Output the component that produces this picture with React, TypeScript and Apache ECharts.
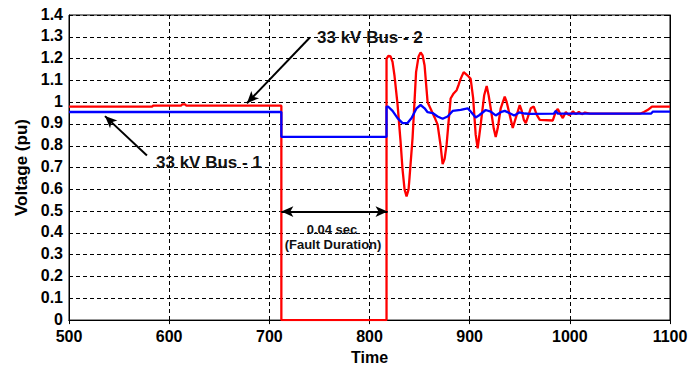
import React, { useEffect, useRef } from "react";
import * as echarts from "echarts";

// Time axis ticks and voltage ticks
const timeTicks = [500, 600, 700, 800, 900, 1000, 1100];
const voltTicks = [0, 0.1, 0.2, 0.3, 0.4, 0.5, 0.6, 0.7, 0.8, 0.9, 1, 1.1, 1.2, 1.3, 1.4];

// 33 kV Bus - 2 (red)
const bus2Time = [
  500, 583, 584, 612, 613, 616, 617, 712, 712, 817, 817, 819, 821, 823, 825, 828, 831, 833, 835, 837,
  839, 840, 843, 846.5, 849, 851, 853, 855, 858, 861, 865, 868, 871, 873, 875, 877, 879, 881, 884, 887,
  889, 891, 894, 896, 898, 901, 903.5, 906, 908, 911, 914.5, 917, 919, 921, 924, 926, 928, 931, 935, 937,
  939.5, 943, 946, 950, 952, 954, 956, 958, 961, 964, 967, 970, 983, 986, 988, 990, 993, 996, 998, 1000,
  1003, 1006, 1009, 1012, 1015, 1020, 1070, 1074, 1078, 1082, 1100,
];
const bus2Volt = [
  0.98, 0.98, 0.984, 0.984, 0.99, 0.99, 0.984, 0.984, 0, 0, 1.2, 1.213, 1.21, 1.185, 1.12, 0.99, 0.82, 0.69, 0.6, 0.568,
  0.6, 0.656, 0.836, 1.138, 1.21, 1.228, 1.215, 1.168, 1.0, 0.97, 0.93, 0.897, 0.8, 0.716, 0.74, 0.806, 0.912, 1.017, 1.04, 1.055,
  1.08, 1.107, 1.138, 1.13, 1.122, 1.107, 1.017, 0.851, 0.788, 0.897, 1.032, 1.074, 1.03, 0.972, 0.88, 0.84, 0.88, 0.972, 1.025, 1.0,
  0.95, 0.882, 0.927, 0.987, 0.96, 0.92, 0.904, 0.93, 0.972, 0.98, 0.942, 0.919, 0.916, 0.957, 0.969, 0.95, 0.927, 0.955, 0.945, 0.94,
  0.958, 0.945, 0.955, 0.945, 0.952, 0.947, 0.947, 0.955, 0.965, 0.98, 0.98,
];

// 33 kV Bus - 1 (blue)
const bus1Time = [
  500, 712, 712, 817, 817, 818.5, 823, 828, 833, 838, 842, 847, 851, 855, 858, 863, 868, 873, 878, 883,
  891, 898, 901, 906, 909.5, 916, 921, 926, 931, 935, 939.5, 944.5, 949.5, 955, 960, 984, 986, 988, 1081, 1083,
  1100,
];
const bus1Volt = [
  0.955, 0.955, 0.841, 0.841, 0.98, 0.98, 0.96, 0.927, 0.904, 0.904, 0.927, 0.972, 0.987, 0.972, 0.954, 0.95, 0.934, 0.924, 0.934, 0.96,
  0.965, 0.972, 0.957, 0.93, 0.94, 0.964, 0.957, 0.939, 0.954, 0.96, 0.95, 0.939, 0.953, 0.948, 0.946, 0.947, 0.96, 0.947, 0.947, 0.957,
  0.957,
];

// Fault window (start / end of the outage)
const faultStart = 712;
const faultEnd = 818;

const FONT = 'Arial, "Liberation Sans", sans-serif';

const zip = (xs: number[], ys: number[]) => xs.map((x, i) => [x, ys[i]]);

export default function App() {
  const ref = useRef<HTMLDivElement>(null);

  useEffect(() => {
    if (!ref.current) return;
    const chart = echarts.init(ref.current, undefined, { renderer: "svg" });

    const tickFmt = (v: number) => String(Math.round(v * 10) / 10);
    const gridLine = { show: true, lineStyle: { color: "#000", width: 1, type: [4, 3] as number[] } };

    chart.setOption({
      animation: false,
      backgroundColor: "#fff",
      grid: { left: 69, right: 22, top: 15, bottom: 45, show: true, borderColor: "#000", borderWidth: 1 },
      xAxis: [
        {
          type: "value",
          min: timeTicks[0],
          max: timeTicks[timeTicks.length - 1],
          interval: 100,
          name: "Time",
          nameLocation: "middle",
          nameGap: 25,
          nameTextStyle: { fontFamily: FONT, fontWeight: "bold", fontSize: 16, color: "#000" },
          axisLine: { show: true, lineStyle: { color: "#000", width: 1 } },
          axisTick: { show: true, inside: true, length: 4, lineStyle: { color: "#000" } },
          axisLabel: { fontFamily: FONT, fontWeight: "bold", fontSize: 16, color: "#000", margin: 8, formatter: tickFmt },
          splitLine: gridLine,
        },
        {
          type: "value",
          position: "top",
          min: timeTicks[0],
          max: timeTicks[timeTicks.length - 1],
          interval: 100,
          axisLine: { show: true, lineStyle: { color: "#000" } },
          axisTick: { show: true, inside: true, length: 4, lineStyle: { color: "#000" } },
          axisLabel: { show: false },
          splitLine: { show: false },
        },
      ],
      yAxis: [
        {
          type: "value",
          min: voltTicks[0],
          max: voltTicks[voltTicks.length - 1],
          interval: 0.1,
          name: "Voltage (pu)",
          nameLocation: "middle",
          nameRotate: 90,
          nameGap: 39,
          nameTextStyle: { fontFamily: FONT, fontWeight: "bold", fontSize: 17, color: "#000" },
          axisLine: { show: true, lineStyle: { color: "#000", width: 1 } },
          axisTick: { show: true, inside: true, length: 4, lineStyle: { color: "#000" } },
          axisLabel: {
            fontFamily: FONT,
            fontWeight: "bold",
            fontSize: 16,
            color: "#000",
            margin: 6,
            formatter: tickFmt,
            verticalAlign: "bottom",
            padding: [0, 0, -7, 0],
          },
          splitLine: gridLine,
        },
        {
          type: "value",
          position: "right",
          min: voltTicks[0],
          max: voltTicks[voltTicks.length - 1],
          interval: 0.1,
          axisLine: { show: true, lineStyle: { color: "#000" } },
          axisTick: { show: true, inside: true, length: 4, lineStyle: { color: "#000" } },
          axisLabel: { show: false },
          splitLine: { show: false },
        },
      ],
      series: [
        {
          name: "33 kV Bus - 2",
          type: "line",
          data: zip(bus2Time, bus2Volt),
          showSymbol: false,
          symbol: "none",
          lineStyle: { color: "#ff0000", width: 2.3 },
          z: 2,
        },
        {
          name: "33 kV Bus - 1",
          type: "line",
          data: zip(bus1Time, bus1Volt),
          showSymbol: false,
          symbol: "none",
          lineStyle: { color: "#0000ff", width: 2.3 },
          z: 3,
          markLine: {
            silent: true,
            symbol: ["none", "arrow"],
            symbolSize: [8, 12],
            label: { show: false },
            lineStyle: { color: "#000", width: 2, type: "solid" },
            data: [
              [{ coord: [740.5, 1.297] }, { coord: [677.6, 0.995] }],
              [{ coord: [577.8, 0.755] }, { coord: [535.9, 0.936] }],
              [
                { coord: [faultStart, 0.498], symbol: "arrow" },
                { coord: [faultEnd, 0.498] },
              ],
            ],
          },
        },
      ],
      graphic: [
        {
          type: "text",
          x: 317,
          y: 37,
          style: { text: "33 kV Bus - 2", font: `bold 17px ${FONT}`, fill: "#111", textAlign: "left", textVerticalAlign: "middle" },
          z: 10,
        },
        {
          type: "text",
          x: 156,
          y: 162,
          style: { text: "33 kV Bus - 1", font: `bold 17px ${FONT}`, fill: "#111", textAlign: "left", textVerticalAlign: "middle" },
          z: 10,
        },
        {
          type: "text",
          x: 332,
          y: 229,
          style: { text: "0.04 sec", font: `bold 13px ${FONT}`, fill: "#111", textAlign: "center", textVerticalAlign: "middle" },
          z: 10,
        },
        {
          type: "text",
          x: 333,
          y: 244,
          style: { text: "(Fault Duration)", font: `bold 13px ${FONT}`, fill: "#111", textAlign: "center", textVerticalAlign: "middle" },
          z: 10,
        },
      ],
    });

    return () => chart.dispose();
  }, []);

  return (
    <div
      ref={ref}
      style={{ position: "absolute", left: 0, top: 0, width: 692, height: 370, background: "#fff" }}
    />
  );
}
